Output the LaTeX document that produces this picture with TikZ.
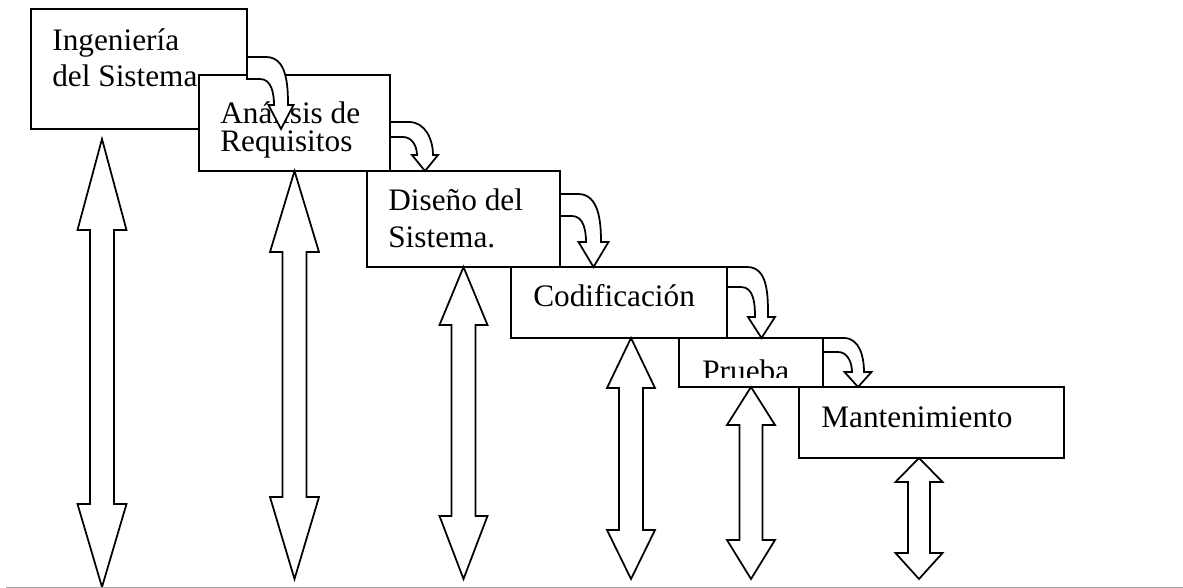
\documentclass[tikz,border=0pt]{standalone}
\usepackage{fontspec}
\setmainfont{Liberation Serif}
\newfontfamily\tnr{Liberation Serif}
\usetikzlibrary{calc,fit}
\definecolor{floorgray}{HTML}{A0A0A0}
\tikzset{
  box/.style={draw=black, fill=white, line width=1.1pt, inner sep=0pt, outer sep=0pt},
  blk/.style={draw=black, fill=white, line width=1pt, line join=miter},
  lab/.style={font=\tnr\fontsize{17.8}{21}\selectfont, anchor=base west, inner sep=0pt, align=left},
  labt/.style={lab, font=\tnr\fontsize{17.8}{16.4}\selectfont},
  floor/.style={draw=floorgray, line width=1pt},
}
% hollow two-headed arrow: top tip, bottom tip, head lengths, half widths
\newcommand{\updown}[6]{%
  \draw[blk] (#1) -- ($(#1)+(#5,#3)$) -- ($(#1)+(#6,#3)$) -- ($(#2)+(#6,-#4)$)
    -- ($(#2)+(#5,-#4)$) -- (#2) -- ($(#2)+(-#5,-#4)$) -- ($(#2)+(-#6,-#4)$)
    -- ($(#1)+(-#6,#3)$) -- ($(#1)+(-#5,#3)$) -- cycle;}
% curved down arrow leaving the right side of a box
\newcommand{\curldown}[8]{%
  \path ($(#1.north east)+(0,#2)$) coordinate (s);
  \draw[blk] (s) -- ($(s)+({#4-8},0)$) to[out=0,in=90] ($(s)+(#5,#6)$)
    -- ($(s)+({(#4+#5)/2+#7},#6)$) -- ($(s)+({(#4+#5)/2},#8)$)
    -- ($(s)+({(#4+#5)/2-#7},#6)$) -- ($(s)+(#4,#6)$)
    to[out=90,in=0] ($(s)+({#4-14},#3)$) -- ($(s)+(0,#3)$) -- cycle;}

\begin{document}
\begin{tikzpicture}[x=0.02cm, y=-0.02cm]
  \useasboundingbox (0,0) rectangle (1183,588);

  % anchors of two-line texts sit on the last line
  \node[box, fit={(31,9) (247,129)}] (ing) {};
  \node[lab] (ting) at (52,87) {Ingeniería\\del Sistema};
  \node[box, fit={(199,75) (390,171)}] (ana) {};
  \node[labt] (tana) at (220,152) {Análisis de\\Requisitos};
  \curldown{ing}{48}{22}{27}{41}{48}{12.5}{72}

  \node[box, fit={(367,171) (560,267)}] (dis) {};
  \node[lab] (tdis) at (388,247) {Diseño del\\Sistema.};
  \curldown{ana}{47}{15}{27}{43}{33}{13}{49}

  \node[box, fit={(511,267) (727,338)}] (cod) {};
  \node[lab] (tcod) at (533,306) {Codificación};
  \curldown{dis}{23}{22}{26}{41}{48}{15}{73}

  \node[box, fit={(679,338) (823,387)}] (pru) {};
  \begin{scope}
    \clip (679,338) rectangle (823,377);
    \node[lab] (tpru) at (702,381) {Prueba};
  \end{scope}
  \curldown{cod}{0}{20}{28}{41}{50}{13.5}{71}

  \node[box, fit={(799,387) (1064,458)}] (man) {};
  \node[lab] (tman) at (821,427) {Mantenimiento};
  \curldown{pru}{0}{14}{29}{41}{34}{13.5}{49}

  % up and down arrows
  \coordinate (u1) at (102,139);  \coordinate (d1) at ($(u1)+(0,448)$);
  \coordinate (u2) at (ana.south); \coordinate (d2) at ($(u2)+(0,408)$);
  \coordinate (u3) at (dis.south); \coordinate (d3) at ($(u3)+(0,312)$);
  \coordinate (u4) at (631,338);  \coordinate (d4) at ($(u4)+(0,241)$);
  \coordinate (u5) at (pru.south); \coordinate (d5) at ($(u5)+(0,192)$);
  \coordinate (u6) at (919,458);  \coordinate (d6) at ($(u6)+(0,121)$);
  \updown{u1}{d1}{91}{83}{24.5}{12}
  \updown{u2}{d2}{81}{82}{24.5}{12}
  \updown{u3}{d3}{58}{63}{24}{12}
  \updown{u4}{d4}{50}{49}{24}{12}
  \updown{u5}{d5}{38}{39}{24}{11.5}
  \updown{u6}{d6}{24}{26}{23.5}{11}

  \draw[floor] (6,587.5) -- (1183,587.5);
\end{tikzpicture}
\end{document}
